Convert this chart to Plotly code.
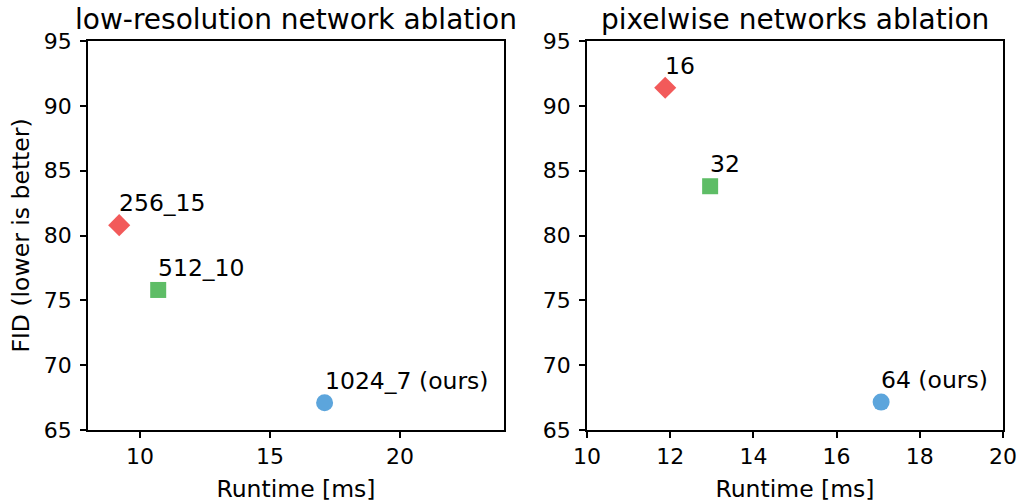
import plotly.graph_objects as go

# Left panel: low-resolution network ablation
left_labels = ["256_15", "512_10", "1024_7 (ours)"]
left_runtime = [9.2, 10.7, 17.1]
left_fid = [80.8, 75.8, 67.1]

# Right panel: pixelwise networks ablation
right_labels = ["16", "32", "64 (ours)"]
right_runtime = [11.88, 12.96, 17.07]
right_fid = [91.4, 83.8, 67.15]

colors = ["#f25a5a", "#5ebd66", "#5ca5dc"]
symbols = ["diamond", "square", "circle"]
sizes = [17, 16, 17]

titles = ["low-resolution network ablation", "pixelwise networks ablation"]
left_xticks = [10, 15, 20]
right_xticks = [10, 12, 14, 16, 18, 20]
yticks = [65, 70, 75, 80, 85, 90, 95]

FONT = "DejaVu Sans"
W, H = 1021, 504
fig = go.Figure()

panels = [
    ("x", "y", left_runtime, left_fid, left_labels),
    ("x2", "y2", right_runtime, right_fid, right_labels),
]
annotations = []
for xa, ya, xs, ys, labs in panels:
    for i in range(3):
        fig.add_trace(go.Scatter(
            x=[xs[i]], y=[ys[i]], mode="markers", xaxis=xa, yaxis=ya,
            marker=dict(symbol=symbols[i], color=colors[i], size=sizes[i], line=dict(width=0)),
            showlegend=False, hoverinfo="skip"))
        annotations.append(dict(
            x=xs[i], y=ys[i], xref=xa, yref=ya, text=labs[i], showarrow=False,
            xanchor="left", yanchor="bottom", xshift=-2, yshift=6,
            font=dict(family=FONT, size=23.5, color="black")))

dom1 = [88 / W, 504 / W]
dom2 = [587 / W, 1003 / W]
ydom = [1 - 430 / H, 1 - 41 / H]

for t, d in zip(titles, [dom1, dom2]):
    annotations.append(dict(
        x=(d[0] + d[1]) / 2, y=1 - 38 / H, xref="paper", yref="paper",
        text=t, showarrow=False, xanchor="center", yanchor="bottom",
        font=dict(family=FONT, size=28, color="black")))

axis_common = dict(
    showline=True, linecolor="black", linewidth=1.5, mirror=True,
    ticks="outside", ticklen=6, tickwidth=1.5, tickcolor="black",
    showgrid=False, zeroline=False, automargin=False,
    tickfont=dict(family=FONT, size=22, color="black"),
)
title_font = dict(family=FONT, size=23.5, color="black")

fig.update_layout(
    width=W, height=H,
    margin=dict(l=0, r=0, t=0, b=0, pad=0),
    paper_bgcolor="white", plot_bgcolor="white",
    annotations=annotations,
    xaxis=dict(domain=dom1, range=[8, 24], tickvals=left_xticks, anchor="y",
               title=dict(text="Runtime [ms]", font=title_font, standoff=12),
               **axis_common),
    yaxis=dict(domain=ydom, range=[65, 95], tickvals=yticks, anchor="x",
               ticklabelstandoff=4,
               title=dict(text="FID (lower is better)", font=title_font, standoff=8),
               **axis_common),
    xaxis2=dict(domain=dom2, range=[10, 20], tickvals=right_xticks, anchor="y2",
                title=dict(text="Runtime [ms]", font=title_font, standoff=12),
                **axis_common),
    yaxis2=dict(domain=ydom, range=[65, 95], tickvals=yticks, anchor="x2",
                ticklabelstandoff=4, **axis_common),
)

fig.write_html("out.html", config={"displayModeBar": False},
               post_script="document.body.style.margin='0px';")
